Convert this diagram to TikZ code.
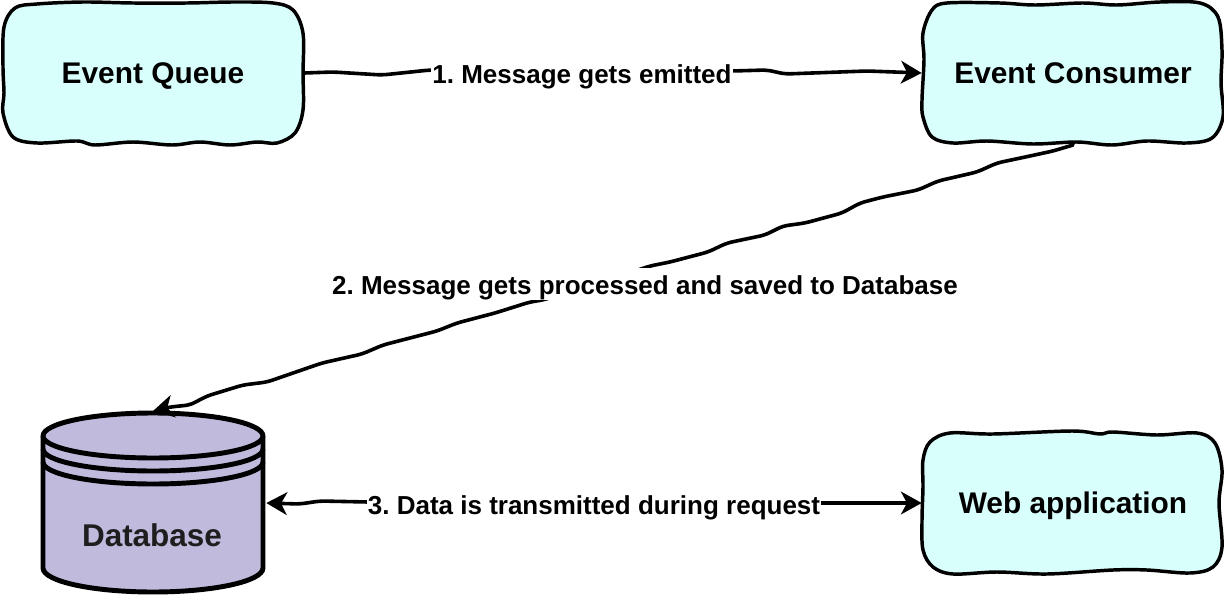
\documentclass[tikz,border=0pt]{standalone}
\usepackage{fontspec}
\setmainfont{Liberation Sans}
\usetikzlibrary{arrows.meta}
\frenchspacing
\definecolor{boxfill}{RGB}{217,255,253}
\definecolor{dbfill}{RGB}{192,186,221}
\definecolor{dbtext}{RGB}{30,30,30}
\tikzset{
  outline/.style={draw=black,fill=boxfill,line width=2.6pt,line join=round},
  dbline/.style={draw=black,line width=3.7pt,line join=round},
  anchorbox/.style={inner sep=0pt,outer sep=0pt,minimum width=227pt,minimum height=108pt,
    text height=16pt,text depth=0pt,
    font=\fontsize{22.4}{26}\selectfont\bfseries},
  flowlabel/.style={fill=white,inner xsep=1pt,inner ysep=0pt,outer sep=0pt,anchor=base,
    text height=20pt,text depth=4pt,
    font=\fontsize{19.5}{23}\selectfont\bfseries},
  wire/.style={draw=black,line width=2.7pt,rounded corners=4pt,line cap=round},
  >={Stealth[length=15.5pt,width=17pt,inset=4.5pt]}
}
\begin{document}
\begin{tikzpicture}[x=.75pt,y=-.75pt]
\useasboundingbox (0,0) rectangle (1224,596);
% box outlines
\path[outline] plot[smooth cycle,tension=.55] coordinates {
 (37,4)(83,2)(133,3)(187,3)(233,2)(273,3)(293,10)(303,33)(303,73)(303,110)(295,133)(277,143)
 (257,142)(230,145)(200,142)(172,145)(133,142)(95,145)(77,141)(37,143)(13,137)(3,113)(4,93)(3,67)(4,27)(15,8)};
\path[outline] plot[smooth cycle,tension=.55] coordinates {
 (947,3)(1000,3)(1035,5)(1083,3)(1117,5)(1160,2)(1200,3)(1218,17)(1222,50)(1221,83)(1223,117)(1212,138)
 (1187,143)(1147,141)(1112,145)(1077,142)(1033,144)(987,141)(953,143)(932,137)(923,117)(922,100)(924,60)(923,33)(932,10)};
\path[outline] plot[smooth cycle,tension=.55] coordinates {
 (950,433)(993,434)(1072,431)(1100,434)(1113,432)(1157,435)(1197,433)(1215,443)(1222,470)(1219,503)(1222,547)(1213,567)
 (1190,573)(1147,570)(1113,570)(1047,574)(997,572)(953,574)(933,567)(923,550)(922,520)(923,487)(923,460)(930,442)};
% database drum
\path[fill=dbfill] (43,436) arc[start angle=180,end angle=360,x radius=110,y radius=23]
  -- (263,568) arc[start angle=0,end angle=180,x radius=110,y radius=24] -- cycle;
\draw[dbline] (43,436) arc[start angle=180,end angle=360,x radius=110,y radius=23]
  -- (263,568) arc[start angle=0,end angle=180,x radius=110,y radius=24] -- cycle;
\draw[dbline] (43,436) arc[start angle=180,end angle=0,x radius=110,y radius=22];
\draw[dbline] (43,449) arc[start angle=180,end angle=0,x radius=110,y radius=22];
\draw[dbline] (43,462) arc[start angle=180,end angle=0,x radius=110,y radius=22];
% named nodes
\node[anchorbox] (eq) at (153,73) {Event Queue};
\node[anchorbox] (ec) at (1073,73) {Event Consumer};
\node[anchorbox] (web) at (1073,503) {Web application};
\node[inner sep=0pt,outer sep=0pt,minimum width=170pt,minimum height=138pt] (db) at (153,503) {};
\node[inner sep=0pt,font=\fontsize{23.6}{28}\selectfont\bfseries,text=dbtext] (dbname) at (152,535) {Database};
% connectors
\draw[wire,->] (eq.east) -- (333,72) -- (382,75) -- (430,70) -- (732,71) -- (767,70) -- (785,74) -- (867,71) -- (ec.west);
\draw[wire,->] (ec.south) -- (1053,151) -- (1030,156) -- (997,163) -- (977,172) -- (938,181) -- (918,190) -- (883,197)
 -- (860,203) -- (842,213) -- (805,223) -- (783,226) -- (765,235) -- (727,243) -- (708,252) -- (670,262) -- (650,266)
 -- (638,270) -- (543,300) -- (530,302) -- (495,313) -- (457,323) -- (437,331) -- (383,345) -- (362,354) -- (322,363)
 -- (267,382) -- (243,385) -- (207,396) -- (190,405) -- (170,407) -- (db.north);
\draw[wire,<->] (db.east) -- (300,504) -- (320,501) -- (368,502) -- (820,503) -- (web.west);
% connector labels
\node[flowlabel] (l1) at (582,83.8) {1. Message gets emitted};
\node[flowlabel] (l2) at (645,294.8) {2. Message gets processed and saved to Database};
\node[flowlabel] (l3) at (594,514.8) {3. Data is transmitted during request};
\end{tikzpicture}
\end{document}
